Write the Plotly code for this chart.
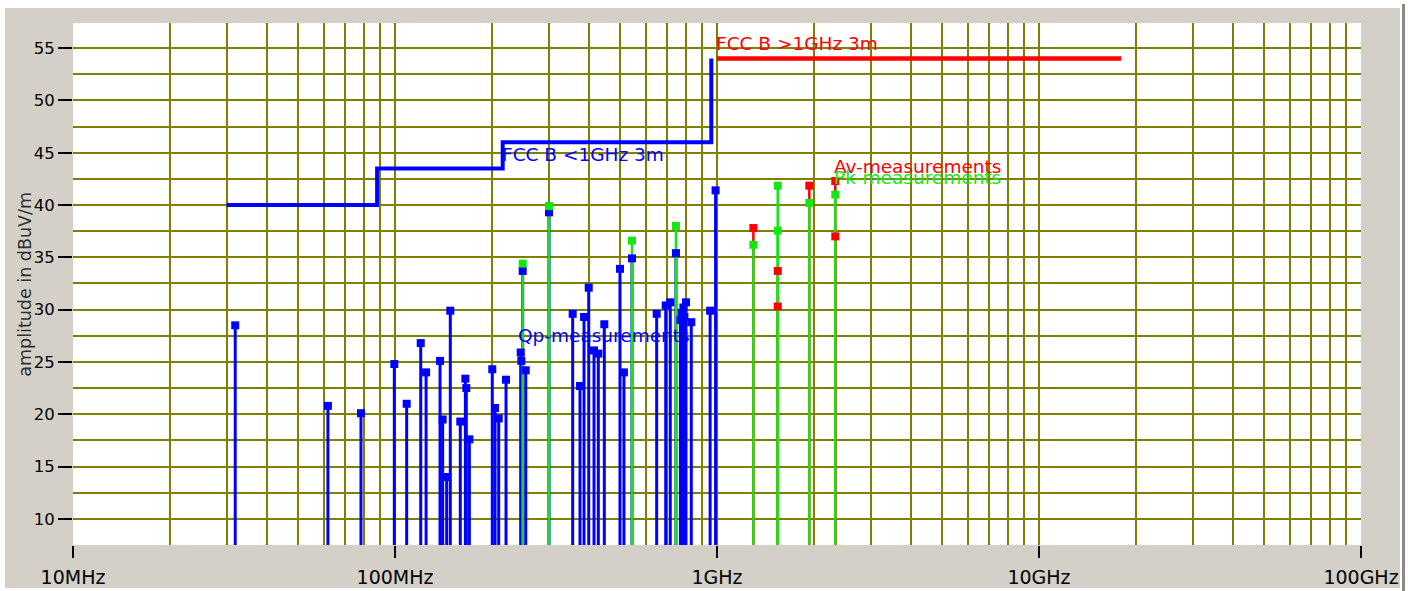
import plotly.graph_objects as go
import numpy as np

# ---------------- data ----------------
# limit lines (MHz, dBuV/m)
fcc_b_low_freq = [30, 88, 216, 960]
fcc_b_low_level = [40, 43.5, 46, 54]
fcc_b_high_freq = [1000, 18000]
fcc_b_high_level = [54, 54]

# quasi-peak measurements (blue)
qp_freq = [31.9, 61.9, 78.4, 99.5, 108.7, 120.2, 124.9, 138.0, 140.6, 144.7,
           148.5, 159.5, 165.4, 166.5, 170.2, 200.5, 204.5, 209.9, 221.2, 245.7,
           246.8, 249.2, 254.7, 300.8, 356.3, 375.4, 386.4, 399.6, 415.0, 428.0,
           446.7, 499.7, 514.0, 544.5, 649.6, 693.0, 716.0, 745.6, 770.0, 777.0,
           786.5, 792.0, 801.0, 832.0, 952.0, 990.0]
qp_level = [28.5, 20.8, 20.1, 24.8, 21.0, 26.8, 24.0, 25.1, 19.5, 14.0,
            29.9, 19.3, 23.4, 22.5, 17.6, 24.3, 20.6, 19.6, 23.3, 25.9,
            25.1, 33.7, 24.2, 39.3, 29.6, 22.7, 29.3, 32.1, 26.1, 25.8,
            28.6, 33.9, 24.0, 34.9, 29.6, 30.4, 30.7, 35.4, 29.0, 29.7,
            30.2, 29.3, 30.7, 28.8, 29.9, 41.4]

# peak measurements (green)
pk_freq = [249.2, 300.8, 544.5, 745.6, 1297, 1544, 1544, 1935, 2330]
pk_level = [34.4, 39.9, 36.6, 38.0, 36.2, 41.85, 37.55, 40.2, 41.0]

# average measurements (red)
av_freq = [1297, 1544, 1544, 1935, 2330, 2330]
av_level = [37.8, 33.7, 30.3, 41.85, 42.3, 37.0]

x_tick_vals = [10, 100, 1000, 10000, 100000]
x_tick_text = ["10MHz", "100MHz", "1GHz", "10GHz", "100GHz"]
y_tick_vals = [10, 15, 20, 25, 30, 35, 40, 45, 50, 55]

# ---------------- style ----------------
BLUE = "#0000ff"
RED = "#ff0000"
GREEN = "#14e614"
OLIVE = "#808000"
PANEL = "#d4d0c8"
Y_MIN, Y_MAX = 7.5, 57.4
FONT = "DejaVu Sans, Verdana, sans-serif"


def stems(freqs, levels):
    xs, ys = [], []
    for f, v in zip(freqs, levels):
        xs += [f, f, None]
        ys += [Y_MIN, v, None]
    return xs, ys


fig = go.Figure()

# stems: red first, blue, then green on top
for fr, lv, col, w in [(av_freq, av_level, RED, 2.5),
                       (qp_freq, qp_level, BLUE, 3),
                       (pk_freq, pk_level, GREEN, 2.5)]:
    sx, sy = stems(fr, lv)
    fig.add_trace(go.Scatter(x=sx, y=sy, mode="lines",
                             line=dict(color=col, width=w),
                             hoverinfo="skip", showlegend=False))

# markers
for fr, lv, col in [(av_freq, av_level, RED),
                    (qp_freq, qp_level, BLUE),
                    (pk_freq, pk_level, GREEN)]:
    fig.add_trace(go.Scatter(x=fr, y=lv, mode="markers",
                             marker=dict(symbol="square", size=8, color=col,
                                         line=dict(width=0)),
                             showlegend=False))

# limit lines
fig.add_trace(go.Scatter(x=fcc_b_low_freq, y=fcc_b_low_level, mode="lines",
                         line=dict(color=BLUE, width=4, shape="hv"),
                         showlegend=False))
fig.add_trace(go.Scatter(x=fcc_b_high_freq, y=fcc_b_high_level, mode="lines",
                         line=dict(color=RED, width=4.5),
                         showlegend=False))

# labels
labels = [
    ("FCC B >1GHz 3m", 1000, 55.4, RED),
    ("FCC B <1GHz 3m", 216, 44.8, BLUE),
    ("Qp-measurements", 243, 27.5, BLUE),
    ("Av-measurements", 2330, 43.7, RED),
    ("Pk-measurements", 2330, 42.6, GREEN),
]
for txt, fx, fy, col in labels:
    fig.add_annotation(x=np.log10(fx), y=fy, text=txt, showarrow=False,
                       xanchor="left", yanchor="middle", xshift=-3,
                       font=dict(family=FONT, size=18.5, color=col))

# y axis title as annotation
fig.add_annotation(x=-0.0375, y=0.5, xref="paper", yref="paper",
                   xanchor="center", yanchor="middle",
                   text="amplitude in dBuV/m", textangle=-90, showarrow=False,
                   font=dict(family=FONT, size=17.5, color="#303030"))

minor_x = [d * k for d in [10, 100, 1000, 10000] for k in range(2, 10)]
minor_y = [v + 2.5 for v in y_tick_vals]

fig.update_xaxes(type="log", range=[1, 5], tickvals=x_tick_vals,
                 ticktext=x_tick_text, ticks="outside", ticklen=12,
                 tickwidth=2, tickcolor="black", ticklabelstandoff=3,
                 showgrid=True, gridcolor=OLIVE, gridwidth=2.2,
                 minor=dict(tickvals=minor_x, showgrid=True,
                            gridcolor=OLIVE, gridwidth=2.2, ticks=""),
                 zeroline=False, showline=False, automargin=False,
                 tickfont=dict(family=FONT, size=19, color="black"))
fig.update_yaxes(range=[Y_MIN, Y_MAX], tickvals=y_tick_vals, ticks="outside",
                 ticklen=14, tickwidth=2, tickcolor="black",
                 showgrid=True, gridcolor=OLIVE, gridwidth=2.2,
                 minor=dict(tickvals=minor_y, showgrid=True,
                            gridcolor=OLIVE, gridwidth=2.2, ticks=""),
                 zeroline=False, showline=False, automargin=False,
                 tickfont=dict(family=FONT, size=16.5, color="black"))

# white outer frame around the grey panel
W, H = 1408, 591
L, R, T, B = 73, 47, 23, 46
pw, ph = W - L - R, H - T - B


def px_x(p):
    return (p - L) / pw


def px_y(p):
    return (H - B - p) / ph


frame = [(0, 0, W, 8), (0, 0, 5, H), (1400, 0, W, H), (0, 588, W, H)]
for x0, y0, x1, y1 in frame:
    fig.add_shape(type="rect", xref="paper", yref="paper",
                  x0=px_x(x0), x1=px_x(x1), y0=px_y(y0), y1=px_y(y1),
                  fillcolor="white", line=dict(width=0), layer="above")
fig.add_shape(type="rect", xref="paper", yref="paper",
              x0=px_x(1402), x1=px_x(1405), y0=px_y(4), y1=px_y(H),
              fillcolor="#8a8a8a", line=dict(width=0), layer="above")

fig.update_layout(width=W, height=H,
                  margin=dict(l=L, r=R, t=T, b=B, pad=0, autoexpand=False),
                  paper_bgcolor=PANEL, plot_bgcolor="white",
                  showlegend=False, hovermode=False)

fig.write_html("out.html", config={"displayModeBar": False},
               post_script="document.body.style.margin='0';"
                           "document.body.style.padding='0';")
